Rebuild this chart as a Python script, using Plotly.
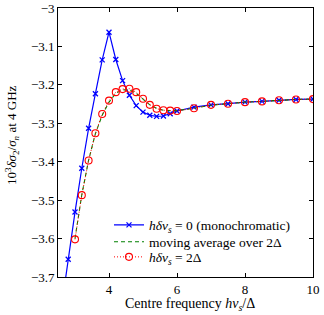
import plotly.graph_objects as go

x_mono = [2.6, 2.8, 3.0, 3.2, 3.4, 3.6, 3.8, 4.0, 4.2, 4.4, 4.6, 4.8, 5.0, 5.2, 5.4, 5.6, 5.8, 6.0,
          6.5, 7.0, 7.5, 8.0, 8.5, 9.0, 9.5, 10.0]
y_mono = [-3.78, -3.654, -3.531, -3.417, -3.313, -3.223, -3.135, -3.063, -3.134, -3.189, -3.227,
          -3.254, -3.271, -3.279, -3.282, -3.281, -3.275, -3.268,
          -3.258, -3.252, -3.249, -3.245, -3.243, -3.240, -3.238, -3.237]

x_avg = [3.0, 3.2, 3.4, 3.6, 3.8, 4.0, 4.2, 4.4, 4.6, 4.8, 5.0, 5.2, 5.4, 5.6, 5.8, 6.0,
         6.5, 7.0, 7.5, 8.0, 8.5, 9.0, 9.5, 10.0]
y_avg = [-3.600, -3.486, -3.396, -3.327, -3.279, -3.245, -3.222, -3.213, -3.213, -3.222, -3.237,
         -3.252, -3.261, -3.266, -3.267, -3.267,
         -3.261, -3.253, -3.249, -3.245, -3.243, -3.240, -3.238, -3.237]

x_bw = [3.0, 3.2, 3.4, 3.6, 3.8, 4.0, 4.2, 4.4, 4.6, 4.8, 5.0, 5.2, 5.4, 5.6, 5.8, 6.0,
        6.5, 7.0, 7.5, 8.0, 8.5, 9.0, 9.5, 10.0]
y_bw = [-3.602, -3.487, -3.397, -3.326, -3.276, -3.241, -3.219, -3.211, -3.210, -3.219, -3.236,
        -3.252, -3.262, -3.266, -3.267, -3.268,
        -3.261, -3.252, -3.249, -3.245, -3.243, -3.240, -3.238, -3.237]

x_ticks = [4, 6, 8, 10]
y_ticks = [-3.7, -3.6, -3.5, -3.4, -3.3, -3.2, -3.1, -3.0]
y_labels = ["\u22123.7", "\u22123.6", "\u22123.5", "\u22123.4", "\u22123.3", "\u22123.2", "\u22123.1", "\u22123"]

x_title = "Centre frequency <i>h\u03bd<sub>s</sub></i>/\u0394"
y_title = "10<sup>3</sup><i>\u03b4\u03c3</i><sub>2</sub>/<i>\u03c3<sub>n</sub></i> at 4 GHz"

FONT = "Liberation Serif"
FS = 13

fig = go.Figure()
fig.add_trace(go.Scatter(
    x=x_mono, y=y_mono, mode="lines+markers", legend="legend",
    name="<i>h\u03b4\u03bd<sub>s</sub></i> = 0 (monochromatic)",
    line=dict(color="rgb(0,0,255)", width=1.2),
    marker=dict(symbol="x-thin", size=5, line=dict(color="rgb(0,0,255)", width=1.3)),
))
fig.add_trace(go.Scatter(
    x=x_avg, y=y_avg, mode="lines", legend="legend2",
    name="moving average over 2\u0394",
    line=dict(color="rgb(0,128,0)", width=1.1, dash="4px,3px"),
))
fig.add_trace(go.Scatter(
    x=x_bw, y=y_bw, mode="lines+markers", legend="legend3",
    name="<i>h\u03b4\u03bd<sub>s</sub></i> = 2\u0394",
    line=dict(color="rgb(255,0,0)", width=1.0, dash="1px,2px"),
    marker=dict(symbol="circle-open", size=7, line=dict(color="rgb(255,0,0)", width=1.1)),
))

def leg(y):
    return dict(x=0.2, y=y, xanchor="left", yanchor="middle",
                bgcolor="rgba(255,255,255,0)", borderwidth=0,
                font=dict(family=FONT, size=13.5), itemwidth=30)

fig.update_layout(
    width=324, height=315,
    margin=dict(l=58, r=11, t=8, b=38, autoexpand=False),
    paper_bgcolor="white", plot_bgcolor="white",
    font=dict(family=FONT, size=FS, color="black"),
    showlegend=True,
    legend=leg(0.193), legend2=leg(0.130), legend3=leg(0.074),
)
fig.update_xaxes(
    range=[2.5, 10], tickvals=x_ticks, ticks="inside", ticklen=4, tickwidth=0.8,
    tickcolor="black", showline=True, linecolor="black", linewidth=0.8, mirror="ticks",
    showgrid=False, zeroline=False, automargin=False,
    tickfont=dict(family=FONT, size=FS),
)
fig.update_yaxes(
    range=[-3.7, -3.0], tickvals=y_ticks, ticktext=y_labels, ticks="inside", ticklen=4,
    tickwidth=0.8, tickcolor="black", showline=True, linecolor="black", linewidth=0.8,
    mirror="ticks", showgrid=False, zeroline=False, automargin=False,
    tickfont=dict(family=FONT, size=FS),
)
fig.add_annotation(text=x_title, xref="paper", yref="paper",
                   x=(190 - 58) / 255, y=(277 - 305) / 269, xanchor="center", yanchor="middle",
                   showarrow=False, font=dict(family=FONT, size=14))
fig.add_annotation(text=y_title, xref="paper", yref="paper", textangle=-90,
                   x=(12 - 58) / 255, y=(277 - 135) / 269, xanchor="center", yanchor="middle",
                   showarrow=False, font=dict(family=FONT, size=13))
fig.write_html("out.html", config={"displayModeBar": False},
               post_script="document.body.style.margin='0';document.body.style.overflow='hidden';")
